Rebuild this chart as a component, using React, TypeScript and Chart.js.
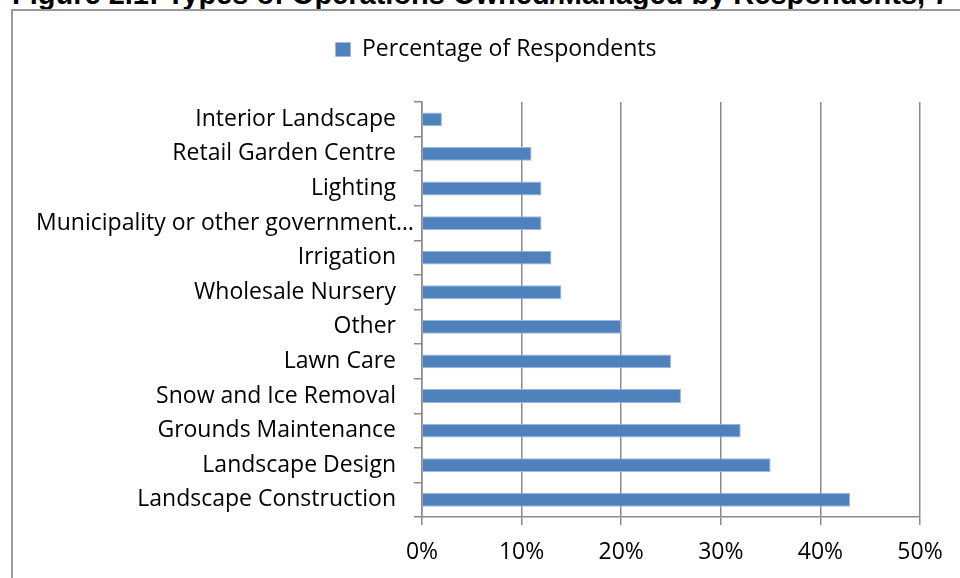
import React, { useEffect, useRef } from "react";
import { Chart, registerables } from "chart.js";

Chart.register(...registerables);

const TITLE = "Figure 2.1: Types of Operations Owned/Managed by Respondents, 7";
const SERIES_LABEL = "Percentage of Respondents";
const CATEGORIES = [
  "Interior Landscape",
  "Retail Garden Centre",
  "Lighting",
  "Municipality or other government…",
  "Irrigation",
  "Wholesale Nursery",
  "Other",
  "Lawn Care",
  "Snow and Ice Removal",
  "Grounds Maintenance",
  "Landscape Design",
  "Landscape Construction",
];
const VALUES = [2, 11, 12, 12, 13, 14, 20, 25, 26, 32, 35, 43];
const X_MIN = 0;
const X_MAX = 50;
const X_STEP = 10;

const FONT = "'Open Sans', 'Noto Sans', sans-serif";
const FONT_SIZE = 23;
const GRID = "#8a8a8a";

export default function App() {
  const ref = useRef<HTMLCanvasElement | null>(null);

  useEffect(() => {
    if (!ref.current) return;
    const legendPlacer = {
      id: "legendPlacer",
      afterLayout(chart: any) {
        const lg = chart.legend;
        if (!lg) return;
        const h = lg.height;
        lg.left = 36;
        lg.right = 956;
        lg.width = 920;
        lg.top = 28;
        lg.bottom = 28 + h;
      },
      beforeDraw(chart: any) {
        // truncated label sits closer to the axis, like the original
        const ys = chart.scales.y;
        const items = ys.getLabelItems(chart.chartArea);
        items.forEach((it: any) => {
          if (typeof it.label === "string" && it.label.endsWith("…") && !it._shifted) {
            it.options.translation[0] += 18;
            it._shifted = true;
          }
        });
      },
    };
    const chart = new Chart(ref.current, {
      type: "bar",
      data: {
        labels: CATEGORIES,
        datasets: [
          {
            label: SERIES_LABEL,
            data: VALUES,
            backgroundColor: "#4F81BD",
            borderColor: "#9db8dc",
            borderWidth: 1,
            categoryPercentage: 1,
            barPercentage: 0.4,
          },
        ],
      },
      options: {
        indexAxis: "y",
        responsive: false,
        animation: false,
        layout: { padding: { top: 59, right: 40, left: 0, bottom: 0 } },
        plugins: {
          legend: {
            position: "top",
            labels: {
              boxWidth: 15,
              boxHeight: 14,
              padding: 10,
              color: "#000",
              font: { family: FONT, size: FONT_SIZE },
            },
          },
          tooltip: { enabled: false },
        },
        scales: {
          x: {
            min: X_MIN,
            max: X_MAX,
            ticks: {
              stepSize: X_STEP,
              padding: 14,
              color: "#000",
              font: { family: FONT, size: FONT_SIZE },
              callback: (v: any) => v + "%",
            },
            grid: { color: GRID, lineWidth: 1.5, tickLength: 8, drawTicks: true },
            border: { display: true, color: GRID, width: 1.5 },
            afterFit: (s: any) => {
              s.height = 61;
            },
          },
          y: {
            ticks: {
              padding: 18,
              color: "#000",
              font: { family: FONT, size: FONT_SIZE },
              autoSkip: false,
            },
            grid: {
              drawOnChartArea: false,
              drawTicks: true,
              tickLength: 8,
              color: GRID,
              lineWidth: 1.5,
              offset: true,
            },
            border: { display: true, color: GRID, width: 1.5 },
            afterFit: (s: any) => {
              s.width = 422;
            },
          },
        },
      },
      plugins: [legendPlacer],
    });
    return () => chart.destroy();
  }, []);

  return (
    <div
      style={{
        position: "absolute",
        left: 0,
        top: 0,
        width: 960,
        height: 578,
        overflow: "hidden",
        background: "#fff",
      }}
    >
      <div
        style={{
          position: "absolute",
          left: 12,
          top: -20,
          whiteSpace: "nowrap",
          fontFamily: "'Liberation Sans', Arial, sans-serif",
          fontWeight: "bold",
          fontSize: 29,
          lineHeight: "29px",
          color: "#000",
        }}
      >
        {TITLE}
      </div>
      <div
        style={{
          position: "absolute",
          left: 11,
          top: 9,
          width: 2000,
          height: 2000,
          border: "2px solid #9a9a9a",
          background: "#fff",
        }}
      />
      <canvas
        ref={ref}
        width={960}
        height={578}
        style={{ position: "absolute", left: 0, top: 0 }}
      />
    </div>
  );
}
